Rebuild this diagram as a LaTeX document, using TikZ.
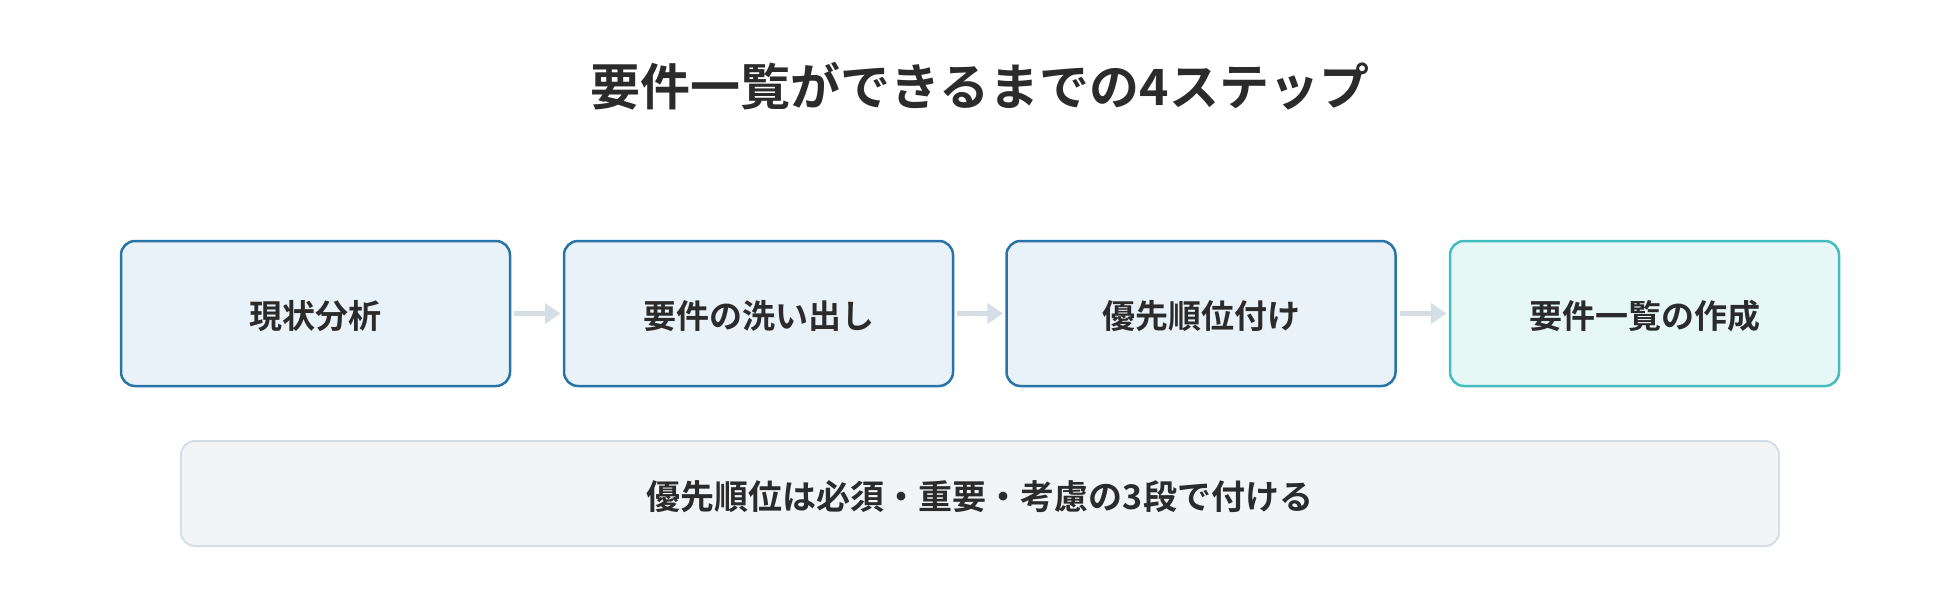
\documentclass[tikz,border=0pt]{standalone}
\usepackage{fontspec}
\setmainfont{Noto Sans CJK JP}[BoldFont={Noto Sans CJK JP Bold}]
\usetikzlibrary{arrows.meta}
\definecolor{txt}{HTML}{2B2B2B}
\definecolor{stepfill}{HTML}{EAF2F9}
\definecolor{stepline}{HTML}{2874A6}
\definecolor{endfill}{HTML}{E6F7F6}
\definecolor{endline}{HTML}{45BDBF}
\definecolor{arrowc}{HTML}{D6DEE5}
\definecolor{notefill}{HTML}{F3F4F6}
\definecolor{noteline}{HTML}{D5DDE6}
\tikzset{
  stepbox/.style={draw=stepline, fill=stepfill, line width=2.5pt, rounded corners=14pt,
    minimum width=389pt, minimum height=145pt, inner sep=0pt, text=txt,
    font=\fontsize{33}{38}\selectfont\bfseries},
  endbox/.style={stepbox, draw=endline, fill=endfill},
  notebox/.style={draw=noteline, fill=notefill, line width=2pt, rounded corners=14pt,
    minimum width=1598pt, minimum height=105pt, inner sep=0pt, text=txt,
    font=\fontsize{34}{40}\selectfont\bfseries},
  flow/.style={draw=arrowc, line width=5pt, -{Triangle[length=16pt,width=20pt]}, shorten <=3pt, shorten >=2pt},
  lbl/.style={text=txt, inner sep=0pt},
}
\begin{document}
\begin{tikzpicture}[x=1pt,y=-1pt]
\useasboundingbox (0,0) rectangle (1960,600);
\node[lbl, font=\fontsize{50}{58}\selectfont\bfseries] (title) at (980,86) {要件一覧ができるまでの4ステップ};
\node[stepbox] (s1) at (315.5,313.5) {};
\node[stepbox] (s2) at (758.5,313.5) {};
\node[stepbox] (s3) at (1201,313.5) {};
\node[endbox] (s4) at (1644.5,313.5) {};
\node[notebox] (note) at (980,493.5) {};
\node[lbl, font=\fontsize{33}{38}\selectfont\bfseries] (t1) at ([yshift=-3pt]s1.center) {現状分析};
\node[lbl, font=\fontsize{33}{38}\selectfont\bfseries] (t2) at ([yshift=-3pt]s2.center) {要件の洗い出し};
\node[lbl, font=\fontsize{33}{38}\selectfont\bfseries] (t3) at ([yshift=-3pt]s3.center) {優先順位付け};
\node[lbl, font=\fontsize{33}{38}\selectfont\bfseries] (t4) at ([yshift=-3pt]s4.center) {要件一覧の作成};
\node[lbl, font=\fontsize{34}{40}\selectfont\bfseries] (tn) at ([yshift=-3pt]note.center) {優先順位は必須・重要・考慮の3段で付ける};
\draw[flow] (s1) -- (s2);
\draw[flow] (s2) -- (s3);
\draw[flow] (s3) -- (s4);
\end{tikzpicture}
\end{document}
